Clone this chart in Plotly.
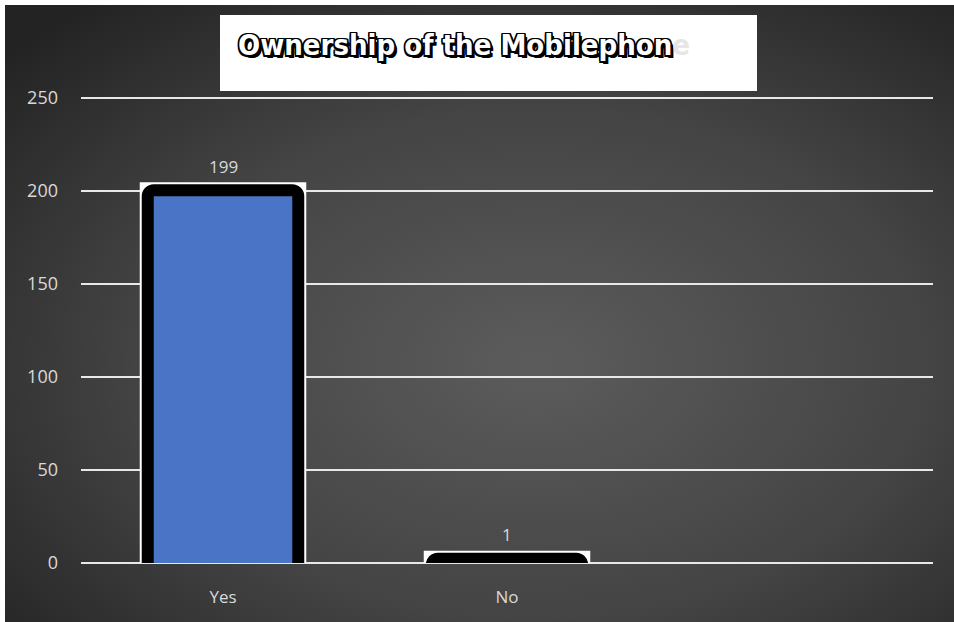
import base64
import plotly.graph_objects as go

categories = ["Yes", "No"]
values = [199, 1]
y_ticks = [0, 50, 100, 150, 200, 250]
title_main = "Ownership of the Mobilephon"
title_tail = "e"

W, H = 954, 622
L, R, T, B = 81, 21, 94, 59
plot_w = W - L - R
plot_h = H - T - B
Y_MAX = 252
px_per_unit = plot_h / Y_MAX

BLACK_W = 12
WHITE_W = 16
# push the bar bottoms below the axis so the bottom stroke is clipped away
base_off = (WHITE_W / 2) / px_per_unit
# raise the drawn top slightly so the thick border sits mostly outside the value
top_off = 2.5 / px_per_unit

def px_x(p):
    return (p - L) / plot_w

def px_y(p):
    return (H - B - p) / plot_h

svg = (
    '<svg xmlns="http://www.w3.org/2000/svg" width="949" height="617" viewBox="0 0 949 617" preserveAspectRatio="none">'
    '<defs><radialGradient id="g" cx="0.56" cy="0.58" r="0.75">'
    '<stop offset="0" stop-color="#5c5c5c"/><stop offset="0.55" stop-color="#444444"/>'
    '<stop offset="1" stop-color="#232323"/></radialGradient></defs>'
    '<rect width="949" height="617" fill="url(#g)"/></svg>'
)
svg_uri = "data:image/svg+xml;base64," + base64.b64encode(svg.encode()).decode()

bar_len = [v + base_off + top_off for v in values]
bar_base = [-base_off] * len(values)

fig = go.Figure()
fig.add_trace(go.Bar(
    x=categories, y=bar_len, base=bar_base, width=0.53,
    marker=dict(color="white", line=dict(color="white", width=WHITE_W)),
    hoverinfo="skip", showlegend=False,
))
fig.add_trace(go.Bar(
    x=categories, y=bar_len, base=bar_base, width=0.53,
    marker=dict(color="#4a74c6", line=dict(color="black", width=BLACK_W), cornerradius=6),
    hoverinfo="skip", showlegend=False,
))

for c, v in zip(categories, values):
    fig.add_annotation(x=c, y=v, text=str(v), showarrow=False, yanchor="bottom",
                       yshift=13, font=dict(family="Open Sans", size=17, color="#d9d9d9"))

# title box
fig.add_shape(type="rect", xref="paper", yref="paper",
              x0=px_x(220), x1=px_x(757), y0=px_y(91), y1=px_y(15),
              fillcolor="white", line=dict(width=0), layer="above")
fig.add_annotation(
    xref="paper", yref="paper", x=px_x(464), y=px_y(45), xanchor="center", yanchor="middle",
    showarrow=False,
    text=title_main + '<span style="color:#e6e6e6;text-shadow:none">' + title_tail + '</span>',
    font=dict(family="DejaVu Sans Condensed", size=29, color="white", weight="bold",
              shadow="-1.5px -1.5px 0 #000, 1.5px -1.5px 0 #000, -1.5px 1.5px 0 #000, 1.5px 1.5px 0 #000, "
                     "0 1.5px 0 #000, 0 -1.5px 0 #000, 1.5px 0 0 #000, -1.5px 0 0 #000, "
                     "2.5px 2.5px 0 #000, 3px 3px 0 #000"),
)

fig.add_layout_image(dict(
    source=svg_uri, xref="paper", yref="paper",
    x=px_x(5), y=px_y(5), sizex=(W - 5) / plot_w, sizey=(H - 5) / plot_h,
    xanchor="left", yanchor="top", sizing="stretch", layer="below",
))

fig.update_layout(
    width=W, height=H, margin=dict(l=L, r=R, t=T, b=B),
    paper_bgcolor="white", plot_bgcolor="rgba(0,0,0,0)",
    barmode="overlay", showlegend=False,
    xaxis=dict(range=[-0.5, 2.5], showgrid=False, zeroline=False, showline=False,
               ticks="", ticklabelstandoff=22,
               tickfont=dict(family="Open Sans", size=17, color="#d9d9d9")),
    yaxis=dict(range=[0, Y_MAX], tickvals=y_ticks, showgrid=True, gridcolor="#e8e8e8",
               gridwidth=2, zeroline=True, zerolinecolor="#e8e8e8", zerolinewidth=2,
               showline=False, ticks="", ticklabelstandoff=22,
               tickfont=dict(family="Open Sans", size=18, color="#d9d9d9")),
)

fig.write_html("out.html", config={"displayModeBar": False},
               post_script="document.body.style.margin='0';")
